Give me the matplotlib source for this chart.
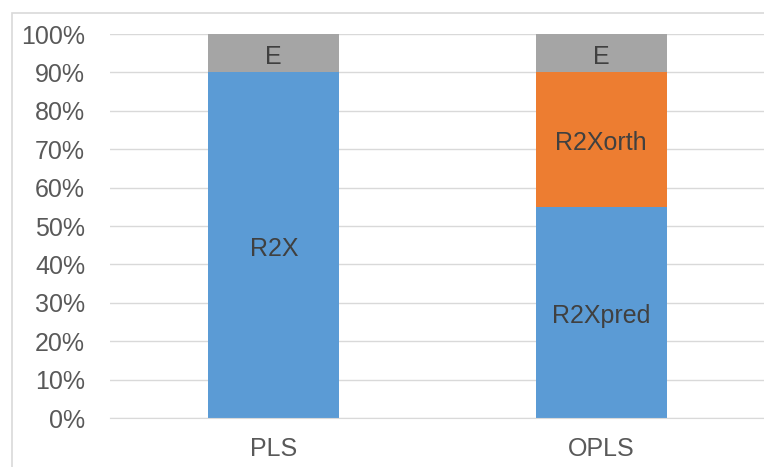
import matplotlib.pyplot as plt
import numpy as np

models = ['PLS', 'OPLS']
r2x_pred = [90, 55]        # R2X for PLS, R2Xpred for OPLS
r2x_orth = [0, 35]
e_part = [10, 10]
pred_labels = ['R2X', 'R2Xpred']
orth_labels = ['', 'R2Xorth']
e_labels = ['E', 'E']
yticks = np.arange(0, 101, 10)

plt.rcParams['font.family'] = ['Liberation Sans', 'DejaVu Sans']

fig = plt.figure(figsize=(7.64, 4.67), dpi=100)
ax = fig.add_axes([110/764, 1-418/467, 655/764, (418-34)/467])

x = np.arange(len(models))
w = 0.4
blue, orange, grey = '#5B9BD5', '#ED7D31', '#A5A5A5'
txt = '#404040'
fs = 18

b1 = ax.bar(x, r2x_pred, w, color=blue, zorder=2)
b2 = ax.bar(x, r2x_orth, w, bottom=r2x_pred, color=orange, zorder=2)
bottom_e = np.array(r2x_pred) + np.array(r2x_orth)
b3 = ax.bar(x, e_part, w, bottom=bottom_e, color=grey, zorder=2)

anns = []
anns += ax.bar_label(b1, labels=pred_labels, label_type='center', color=txt, fontsize=fs)
anns += ax.bar_label(b2, labels=orth_labels, label_type='center', color=txt, fontsize=fs)
anns += ax.bar_label(b3, labels=e_labels, label_type='center', color=txt, fontsize=fs)
for a in anns:
    a.xyann = (0, -2.5)

ax.set_xlim(-0.5, 1.5)
ax.set_ylim(0, 100)
ax.set_yticks(yticks)
ax.set_yticklabels([f'{v}%' for v in yticks])
ax.set_xticks(x)
ax.set_xticklabels(models)
ax.tick_params(length=0, labelsize=fs, labelcolor='#595959')
ax.tick_params(axis='y', pad=18)
ax.tick_params(axis='x', pad=14)
ax.grid(axis='y', color='#D9D9D9', linewidth=1, zorder=0)
for s in ['top', 'right', 'left']:
    ax.spines[s].set_visible(False)
ax.spines['bottom'].set_color('#D9D9D9')

# chart frame
frame = plt.Rectangle((12/764, -0.1), 1.2, 1-13/467+0.1, transform=fig.transFigure,
                      fill=False, edgecolor='#D9D9D9', linewidth=1.2)
fig.add_artist(frame)

fig.savefig('out.png', dpi=100)
